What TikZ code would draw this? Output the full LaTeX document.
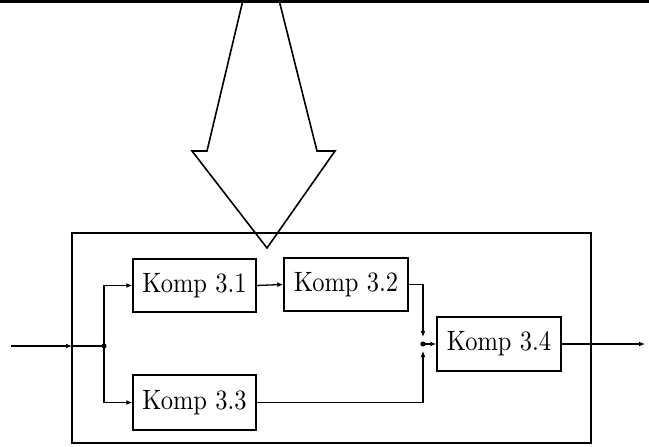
\documentclass[tikz,border=0pt]{standalone}
\usepackage{graphicx}
\usetikzlibrary{arrows.meta}
\newcommand{\kompt}[1]{\scalebox{2.45}[2.8]{\fontsize{10}{12}\selectfont #1}}
\tikzset{
  komp/.style={draw, line width=1.5pt, inner sep=0pt, minimum width=124pt, minimum height=54pt},
  conn/.style={line width=1.3pt},
  arr/.style={conn, -{Latex[length=6pt,width=5pt]}},
  outerbox/.style={draw, line width=1.5pt},
  bigarrow/.style={line width=1.6pt, line join=miter},
}
\begin{document}
\begin{tikzpicture}[x=1pt,y=-1pt]
\useasboundingbox (0,0) rectangle (649,447);
% top border line
\coordinate (tl) at (0,1.5);
\coordinate (tr) at (649,1.5);
\draw[line width=3pt] (tl) -- (tr);
% big hollow arrow
\coordinate (a1) at (243,0);
\coordinate (a2) at (207,151);
\coordinate (a3) at (192,151);
\coordinate (a4) at (267,248);
\coordinate (a5) at (335,151);
\coordinate (a6) at (317,151);
\coordinate (a7) at (279,0);
\draw[bigarrow] (a1) -- (a2) -- (a3) -- (a4) -- (a5) -- (a6) -- (a7);
% outer box
\node[outerbox, minimum width=519pt, minimum height=210pt, inner sep=0pt] (outer) at (331.5,338) {};
% components
\node[komp, minimum width=123pt, minimum height=53pt] (k31) at (194.5,285.5) {\kompt{Komp 3.1}};
\node[komp, minimum width=124pt, minimum height=53pt] (k32) at (346,284.5) {\kompt{Komp 3.2}};
\node[komp, minimum width=123pt, minimum height=55pt] (k33) at (194.5,402.5) {\kompt{Komp 3.3}};
\node[komp, minimum width=124pt, minimum height=54pt] (k34) at (499,344) {\kompt{Komp 3.4}};
% connection points
\coordinate (in) at (11,346);
\coordinate (inb) at (72,346);
\coordinate (split) at (104,346);
\coordinate (junc) at (423,344);
\coordinate (out) at (645,344);
% connectors
\draw[arr] (in) -- (inb);
\draw[conn] (inb) -- (split);
\fill (split) circle (2.6pt);
\draw[arr] (split) |- (k31.west);
\draw[arr] (split) |- (k33.west);
\draw[arr] (k31.east) -- (k32.west);
\draw[arr, shorten >=7pt] (k32.east) -| (junc);
\draw[arr, shorten >=7pt] (k33.east) -| (junc);
\fill (junc) circle (2.6pt);
\draw[arr] (junc) -- (k34.west);
\draw[arr] (k34.east) -- (out);
\end{tikzpicture}
\end{document}
